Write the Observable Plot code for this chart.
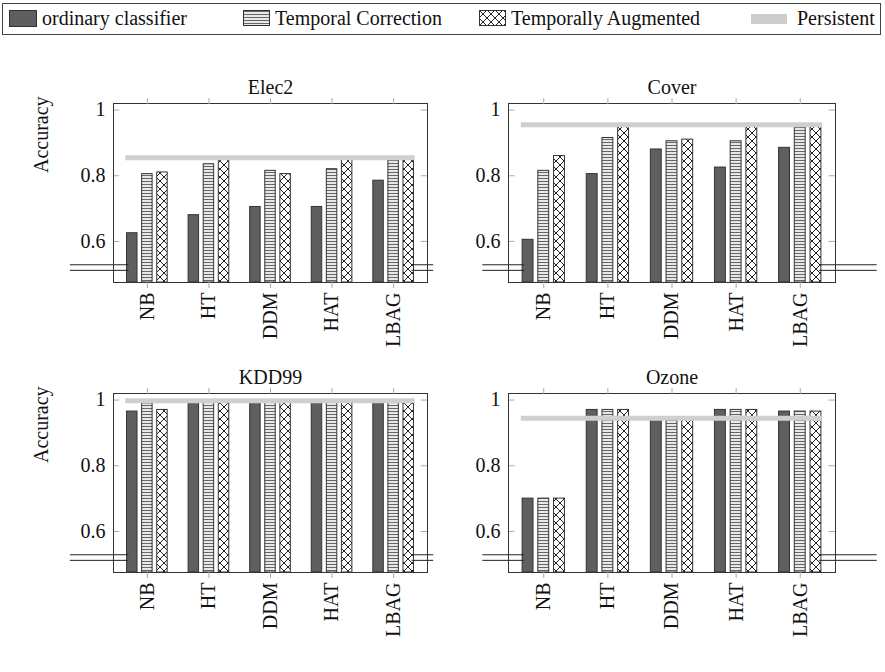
<!DOCTYPE html>
<html><head><meta charset="utf-8">
<script src="https://cdn.jsdelivr.net/npm/d3@7"></script>
<script src="https://cdn.jsdelivr.net/npm/@observablehq/plot@0.6"></script>
<style>
body{margin:0;background:#fff;font-family:"Liberation Serif","DejaVu Serif",serif;}
#legend{position:absolute;left:2px;top:3px;width:879px;height:32px;border:1px solid #444;font-size:20px;color:#111;box-sizing:border-box;}
#legend span{position:absolute;top:3px;display:inline-flex;align-items:center;white-space:nowrap}
.sw{width:26px;height:15px;border:1px solid #333;margin-right:5px;display:inline-block}
.p{position:absolute}
</style></head><body>
<svg width="0" height="0" style="position:absolute">
<defs>
<pattern id="hl" width="4" height="3" patternUnits="userSpaceOnUse"><rect width="4" height="3" fill="#fff"/><line x1="0" y1="1.5" x2="4" y2="1.5" stroke="#666" stroke-width="1.3"/></pattern>
<pattern id="xh" width="8" height="8" patternUnits="userSpaceOnUse"><rect width="8" height="8" fill="#fff"/><path d="M0,0L8,8M8,0L0,8" stroke="#222" stroke-width="1"/></pattern>
</defs></svg>
<div id="legend">
<span style="left:6px"><i class="sw" style="background:#5f5f5f"></i>ordinary classifier</span>
<span style="left:240px"><svg width="28" height="17" style="margin-right:4px"><rect x="0.5" y="0.5" width="26" height="15" fill="url(#hl)" stroke="#333"/></svg>Temporal Correction</span>
<span style="left:476px"><svg width="28" height="17" style="margin-right:4px"><rect x="0.5" y="0.5" width="26" height="15" fill="url(#xh)" stroke="#333"/></svg>Temporally Augmented</span>
<span style="left:748px"><i class="sw" style="background:#ccc;border:none;height:10px;width:36px;margin-right:10px"></i>Persistent</span>
</div>
<div id="charts"></div>
<script>
const classifiers = ["NB", "HT", "DDM", "HAT", "LBAG"]
const methods = ["ordinary classifier", "Temporal Correction", "Temporally Augmented"]
const datasets = ["Elec2", "Cover", "KDD99", "Ozone"]
// accuracy per dataset: rows = classifiers, cols = methods
const elec2 = [[0.625, 0.805, 0.81], [0.68, 0.835, 0.85], [0.705, 0.815, 0.805], [0.705, 0.82, 0.85], [0.785, 0.85, 0.85]]
const cover = [[0.605, 0.815, 0.86], [0.805, 0.915, 0.95], [0.88, 0.905, 0.91], [0.825, 0.905, 0.95], [0.885, 0.95, 0.95]]
const kdd99 = [[0.965, 0.99, 0.97], [0.998, 0.998, 0.998], [0.998, 0.998, 0.998], [0.998, 0.998, 0.998], [0.998, 0.998, 0.998]]
const ozone = [[0.70, 0.70, 0.70], [0.97, 0.97, 0.97], [0.945, 0.945, 0.945], [0.97, 0.97, 0.97], [0.965, 0.965, 0.965]]
const persistent = [0.855, 0.955, 0.998, 0.945]
const values = [elec2, cover, kdd99, ozone]

const fills = ["#5f5f5f", "url(#hl)", "url(#xh)"]
const pos = [{left: 0, top: 45}, {left: 440, top: 45}, {left: 0, top: 335}, {left: 440, top: 335}]
const font = "'Liberation Serif', 'DejaVu Serif', serif"

datasets.forEach((name, k) => {
  const rows = []
  values[k].forEach((r, i) => r.forEach((v, j) => rows.push({c: i, m: j, v})))
  const left = k % 2 == 0
  const chart = Plot.plot({
    width: 445,
    height: 295,
    marginLeft: left ? 113 : 68,
    marginRight: left ? 18 : 50,
    marginTop: 58,
    marginBottom: 58,
    x: {domain: [-0.55, 4.55], axis: null},
    y: {domain: [0.475, 1.02], axis: null},
    color: {domain: [0, 1, 2], range: fills},
    marks: [
      Plot.rectY(rows, {
        x1: d => d.c + (d.m - 1) * 0.245 - 0.085,
        x2: d => d.c + (d.m - 1) * 0.245 + 0.085,
        y1: 0.475, y2: "v", fill: "m", stroke: "#333", strokeWidth: 1
      }),
      Plot.ruleY([persistent[k]], {x1: -0.35, x2: 4.35, stroke: "#cfcfcf", strokeWidth: 5}),
      Plot.ruleY([0.6, 0.8, 1], {x1: -0.55, x2: -0.45, stroke: "#aaa"}),
      Plot.ruleY([0.6, 0.8, 1], {x1: 4.45, x2: 4.55, stroke: "#aaa"}),
      Plot.ruleY([0.529, 0.512], {x1: left ? -1.25 : -0.95, x2: -0.3, stroke: "#222", strokeWidth: 1}),
      Plot.ruleY([0.529, 0.512], {x1: 4.3, x2: left ? 4.65 : 5.2, stroke: "#222", strokeWidth: 1}),
      Plot.frame({stroke: "#333"}),
      Plot.axisX(d3.range(5), {anchor: "top", tickFormat: () => "", tickSize: 6, stroke: "#aaa"}),
      Plot.axisX(d3.range(5), {anchor: "bottom", tickFormat: i => classifiers[i], tickSize: 6, tickRotate: -90, fontSize: 20, tickPadding: 4, stroke: "#aaa"}),
      Plot.axisY([0.6, 0.8, 1], {anchor: "left", tickSize: 0, tickPadding: 8, fontSize: 20,
        tickFormat: d => d == 1 ? "1" : String(d), label: null}),
      Plot.text([name], {frameAnchor: "top", dy: -24, fontSize: 20, fill: "#111"}),
      left ? Plot.text(["Accuracy"], {frameAnchor: "left", dx: -72, rotate: -90, fontSize: 20, fill: "#111", dy: -20}) : null
    ],
    style: {fontFamily: font, fontSize: 20, color: "#111", background: "transparent", overflow: "visible"}
  })
  const div = d3.select("#charts").append("div").attr("class", "p")
    .style("left", pos[k].left + "px").style("top", pos[k].top + "px")
  div.append(() => chart)
})
</script>
</body></html>
